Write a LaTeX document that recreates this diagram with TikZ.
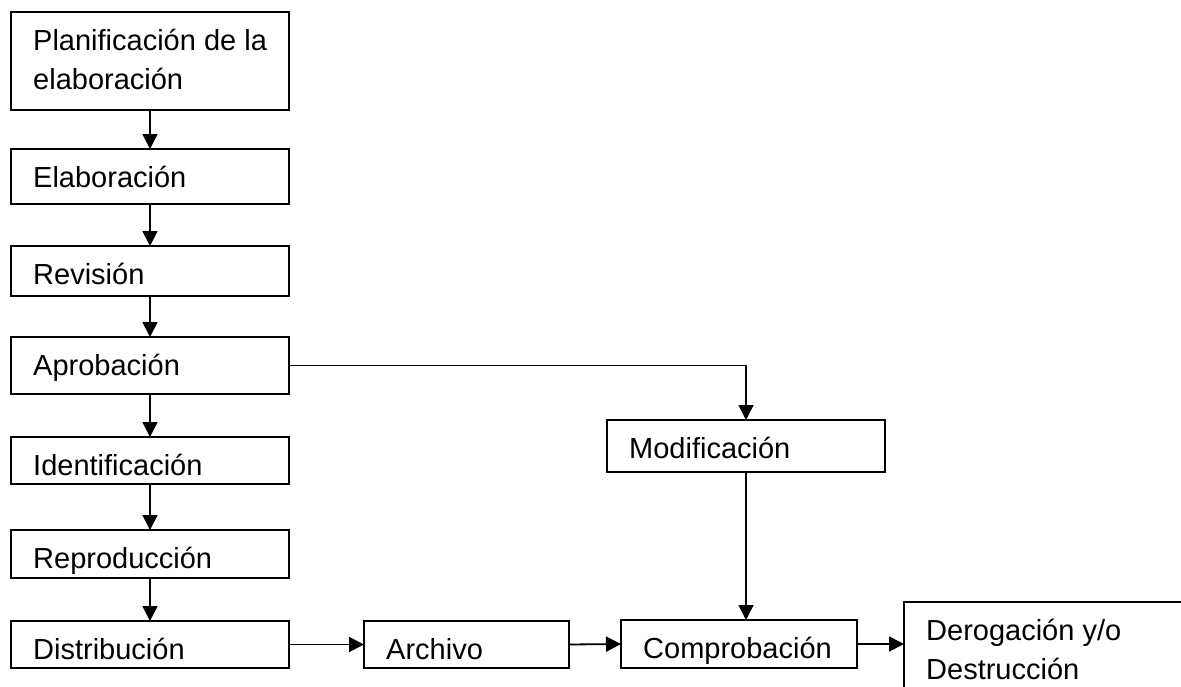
\documentclass[tikz,border=0pt]{standalone}
\usepackage{fontspec}
\setmainfont{Liberation Sans}
\usetikzlibrary{arrows.meta,calc}
\newcommand\flowbox[6]{%
  \node[box,minimum width=#4,minimum height=#5] (#1) at (#2,-#3) {};
  \node[lbl] (#1t) at (#2+22,-#3-38) {#6};}
\begin{document}
\begin{tikzpicture}[x=1pt,y=1pt,
  box/.style={draw=black, line width=1.8pt, rectangle, anchor=north west, inner sep=0pt, outer sep=0pt},
  lbl/.style={anchor=base west, inner sep=0pt, font=\fontsize{29}{39}\selectfont},
  arr/.style={line width=1.8pt, -{Triangle[length=15pt,width=15pt]}}]
\useasboundingbox (0,0) rectangle (1181,-686);
\clip (0,0) rectangle (1181,-686);
\flowbox{plan}{11}{12}{278}{98}{\vtop{\hbox{Planificación de la}\hbox{elaboración}}}
\flowbox{elab}{11}{149}{278}{55}{Elaboración}
\flowbox{revi}{11}{246}{278}{50}{Revisión}
\flowbox{apro}{11}{337}{278}{57}{Aprobación}
\flowbox{iden}{11}{437}{278}{47}{Identificación}
\flowbox{repr}{11}{530}{278}{48}{Reproducción}
\flowbox{dist}{11}{621}{278}{47}{Distribución}
\flowbox{arch}{364}{621}{205}{47}{Archivo}
\flowbox{comp}{621}{620}{236}{48}{Comprobación}
\flowbox{modi}{607}{420}{278}{52}{Modificación}
\flowbox{dero}{904}{602}{280}{98}{\vtop{\hbox{Derogación y/o}\hbox{Destrucción}}}
\draw[arr] (plan.south) -- (elab.north);
\draw[arr] (elab.south) -- (revi.north);
\draw[arr] (revi.south) -- (apro.north);
\draw[arr] (apro.south) -- (iden.north);
\draw[arr] (iden.south) -- (repr.north);
\draw[arr] (repr.south) -- (dist.north);
\draw[arr] (apro.east) -| (modi.north);
\draw[arr] (modi.south) -- (modi.south |- comp.north);
\draw[arr] (dist.east) -- (arch.west);
\draw[arr] (arch.east) -- (comp.west);
\draw[arr] (comp.east) -- (comp.east -| dero.west);
\end{tikzpicture}
\end{document}
